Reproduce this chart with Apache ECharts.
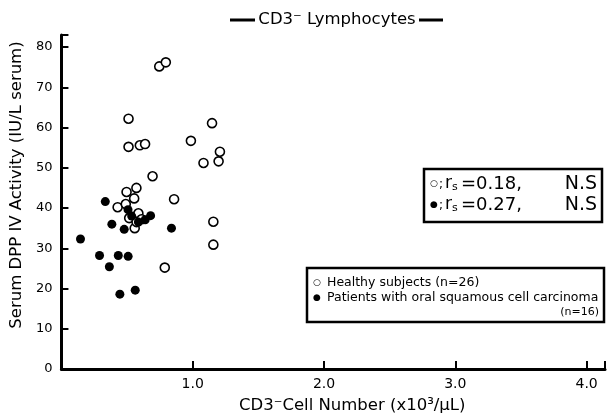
<!DOCTYPE html>
<html><head><meta charset="utf-8">
<script src="https://cdn.jsdelivr.net/npm/echarts@6/dist/echarts.min.js"></script>
<style>html,body{margin:0;padding:0;background:#fff}#c{width:608px;height:419px}</style>
</head><body><div id="c"></div>
<script>
const healthyX = [0.745,0.795,0.511,1.147,0.511,0.597,0.637,0.986,1.207,1.082,1.197,0.694,0.571,0.496,0.554,0.858,0.428,0.490,0.586,0.558,1.157,1.157,0.787,0.516,0.572,0.610];
const healthyY = [75.2,76.2,62.2,61.1,55.2,55.6,55.9,56.7,54.0,51.2,51.6,47.9,45.0,44.0,42.4,42.2,40.2,41.0,38.7,35.0,36.6,30.9,25.2,37.5,36.5,37.2];
const patientX = [0.334,0.145,0.384,0.478,0.838,0.290,0.433,0.508,0.365,0.445,0.562,0.507,0.535,0.586,0.679,0.638];
const patientY = [41.6,32.3,36.0,34.7,35.0,28.2,28.2,28.0,25.4,18.6,19.6,39.6,38.0,36.5,38.1,37.1];
const xTicks = [1,2,3,4];
const yTicks = [0,10,20,30,40,50,60,70,80];
const titleText = 'CD3\u207B Lymphocytes';
const xName = 'CD3\u207BCell Number (x10\u00B3/\u03BCL)';
const yName = 'Serum DPP IV Activity (IU/L serum)';
const healthyName = 'Healthy subjects (n=26)';
const patientName = 'Patients with oral squamous cell carcinoma';
const patientN = '(n=16)';
const rsHealthy = '=0.18,', rsPatient = '=0.27,';
const rsSig = 'N.S';

const FONT = '"DejaVu Sans", "Liberation Sans", sans-serif';
const chart = echarts.init(document.getElementById('c'));
const zip = (a,b)=>a.map((v,i)=>[v,b[i]]);
const rsRow = (sym, val, y) => [
  {type:'text',x:434,y:y,style:{text:sym,fill:'#000',font:'9px '+FONT,textAlign:'center',textVerticalAlign:'middle'}},
  {type:'text',x:439,y:y+1,style:{text:';',fill:'#000',font:'12px '+FONT,textVerticalAlign:'middle'}},
  {type:'text',x:445,y:y,style:{text:'r',fill:'#000',font:'17px '+FONT,textVerticalAlign:'middle'}},
  {type:'text',x:452,y:y+3,style:{text:'s',fill:'#000',font:'11px '+FONT,textVerticalAlign:'middle'}},
  {type:'text',x:461,y:y,style:{text:val,fill:'#000',font:'18px '+FONT,textVerticalAlign:'middle'}},
  {type:'text',x:597,y:y,style:{text:rsSig,fill:'#000',font:'19px '+FONT,textAlign:'right',textVerticalAlign:'middle'}}
];
chart.setOption({
  animation:false,
  backgroundColor:'#fff',
  grid:{left:59,right:0,top:35,bottom:49},
  xAxis:{type:'value',min:0,max:4.14,interval:1,
    axisLine:{lineStyle:{color:'#000',width:3}},
    axisTick:{inside:true,length:8,lineStyle:{color:'#000',width:2}},
    splitLine:{show:false},
    axisLabel:{color:'#000',fontFamily:FONT,fontSize:14,margin:8,
      formatter:v=>xTicks.includes(v)?v.toFixed(1):''},
    name:xName,nameLocation:'middle',nameGap:28,
    nameTextStyle:{color:'#000',fontFamily:FONT,fontSize:16.5,padding:[0,0,0,38]}},
  yAxis:{type:'value',min:0,max:83,interval:10,
    axisLine:{show:true,lineStyle:{color:'#000',width:3}},
    axisTick:{show:true,inside:true,length:7,lineStyle:{color:'#000',width:2}},
    splitLine:{show:false},
    axisLabel:{color:'#000',fontFamily:FONT,fontSize:13,margin:9,
      formatter:v=>yTicks.includes(v)?String(v):''},
    name:yName,nameLocation:'middle',nameGap:36,nameRotate:90,
    nameTextStyle:{color:'#000',fontFamily:FONT,fontSize:16.5,padding:[0,0,0,34]}},
  series:[
    {name:healthyName,type:'scatter',data:zip(healthyX,healthyY),symbol:'circle',symbolSize:9,
      itemStyle:{color:'#fff',borderColor:'#000',borderWidth:1.6,opacity:1}},
    {name:patientName,type:'scatter',data:zip(patientX,patientY),symbol:'circle',symbolSize:9,
      itemStyle:{color:'#000',opacity:1}}
  ],
  graphic:[
    {type:'line',shape:{x1:230,y1:20,x2:255,y2:20},style:{stroke:'#000',lineWidth:3}},
    {type:'line',shape:{x1:419,y1:20,x2:443,y2:20},style:{stroke:'#000',lineWidth:3}},
    {type:'text',x:337,y:20,style:{text:titleText,fill:'#000',font:'16.5px '+FONT,textAlign:'center',textVerticalAlign:'middle'}},
    {type:'rect',shape:{x:424,y:169,width:178,height:53},style:{fill:'#fff',stroke:'#000',lineWidth:2.5}},
    ...rsRow('\u25CB', rsHealthy, 184),
    ...rsRow('\u25CF', rsPatient, 205),
    {type:'rect',shape:{x:307,y:268,width:297,height:54},style:{fill:'#fff',stroke:'#000',lineWidth:2.5}},
    {type:'text',x:317,y:283,style:{text:'\u25CB',fill:'#000',font:'9px '+FONT,textAlign:'center',textVerticalAlign:'middle'}},
    {type:'text',x:327,y:283,style:{text:healthyName,fill:'#000',font:'12.5px '+FONT,textVerticalAlign:'middle'}},
    {type:'text',x:317,y:298,style:{text:'\u25CF',fill:'#000',font:'9px '+FONT,textAlign:'center',textVerticalAlign:'middle'}},
    {type:'text',x:327,y:298,style:{text:patientName,fill:'#000',font:'12.5px '+FONT,textVerticalAlign:'middle'}},
    {type:'text',x:599,y:312,style:{text:patientN,fill:'#000',font:'11px '+FONT,textAlign:'right',textVerticalAlign:'middle'}}
  ]
});
</script></body></html>
